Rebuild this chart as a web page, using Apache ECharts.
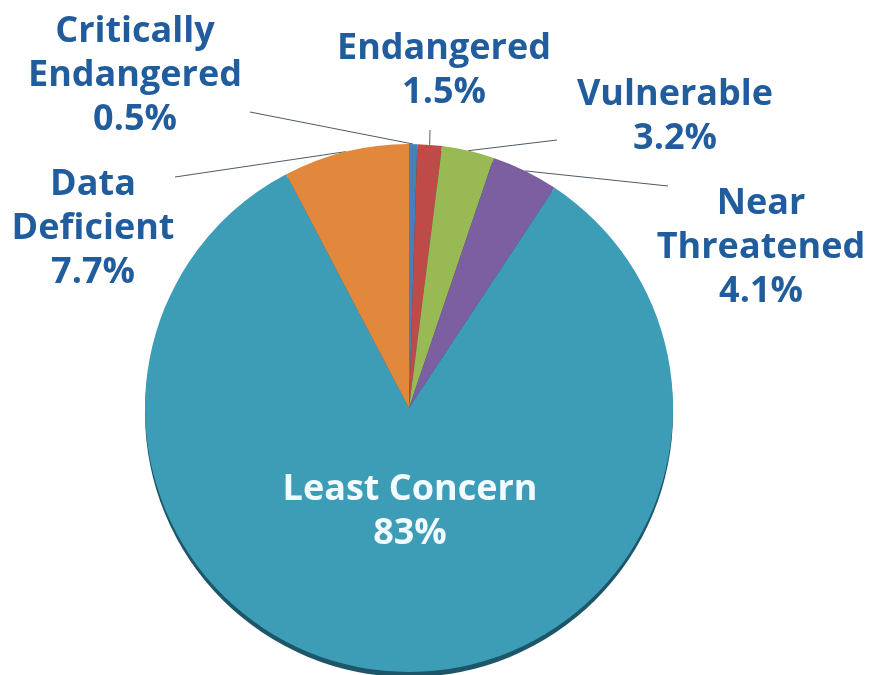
<!DOCTYPE html>
<html>
<head>
<meta charset="utf-8">
<script src="https://cdn.jsdelivr.net/npm/echarts@6/dist/echarts.min.js"></script>
<style>
  html, body { margin: 0; padding: 0; background: #ffffff; }
  #chart { width: 870px; height: 675px; }
</style>
</head>
<body>
<div id="chart"></div>
<script>
// Conservation status shares (percent of assessed species)
const categories = ['Critically Endangered', 'Endangered', 'Vulnerable', 'Near Threatened', 'Least Concern', 'Data Deficient'];
const labelNames = ['Critically\nEndangered', 'Endangered', 'Vulnerable', 'Near\nThreatened', 'Least Concern', 'Data\nDeficient'];
const shares = [0.5, 1.5, 3.2, 4.1, 83, 7.7];
const sliceColors = ['#4a7ebb', '#be4b48', '#98b954', '#7b5fa0', '#3d9db7', '#e2883d'];

// Label placement (centre of each text block) and leader-line end points
const labelCenters = [[135, 76], [444, 71], [675, 117], [761, 248], [410, 512], [93, 229]];
const leaderEnds = [[250, 112], [430, 130], [557, 140], [668, 186], null, [175, 177]];

const pieCenter = [409, 408];
const pieRadius = 264;

const chart = echarts.init(document.getElementById('chart'), null, { renderer: 'canvas' });

const data = categories.map((name, i) => ({
  name: name,
  value: shares[i],
  itemStyle: { color: sliceColors[i] },
  label: i === 4 ? { color: '#f2fbff' } : {},
  labelLine: { show: i !== 4 }
}));

chart.setOption({
  backgroundColor: '#ffffff',
  animation: false,
  series: [
    {
      // darker rim under the disc for the raised edge
      type: 'pie',
      silent: true,
      center: [pieCenter[0], pieCenter[1] + 5],
      radius: pieRadius,
      z: 1,
      label: { show: false },
      labelLine: { show: false },
      itemStyle: { color: '#1d5669', borderWidth: 0 },
      data: [{ name: 'rim', value: 1 }]
    },
    {
      type: 'pie',
      center: pieCenter,
      radius: pieRadius,
      startAngle: 90,
      clockwise: true,
      z: 2,
      itemStyle: { borderWidth: 0 },
      label: {
        show: true,
        position: 'outside',
        overflow: 'none',
        fontFamily: 'Open Sans',
        fontWeight: 'bold',
        fontSize: 36,
        lineHeight: 44,
        color: '#215d9d',
        align: 'center',
        formatter: (p) => labelNames[p.dataIndex] + '\n' + p.value + '%'
      },
      labelLine: {
        show: true,
        lineStyle: { color: '#4d5b69', width: 1 }
      },
      labelLayout: function (params) {
        const i = params.dataIndex;
        const c = labelCenters[i];
        const out = { x: c[0], y: c[1], align: 'center', verticalAlign: 'middle' };
        const end = leaderEnds[i];
        if (end && params.labelLinePoints) {
          const start = params.labelLinePoints[0];
          out.labelLinePoints = [
            start,
            [(start[0] + end[0]) / 2, (start[1] + end[1]) / 2],
            end
          ];
        }
        return out;
      },
      data: data
    }
  ]
});
</script>
</body>
</html>
